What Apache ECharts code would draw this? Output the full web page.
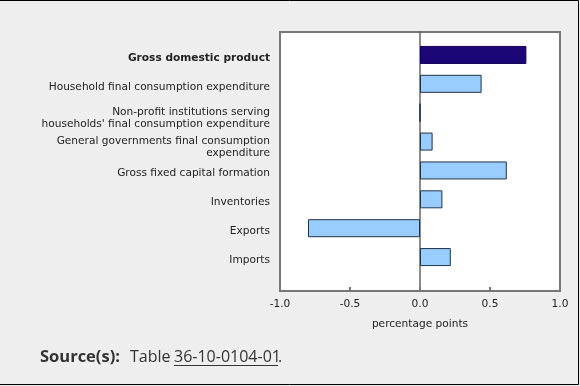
<!DOCTYPE html>
<html><head><meta charset="utf-8">
<script src="https://cdn.jsdelivr.net/npm/echarts@6/dist/echarts.min.js"></script>
<style>html,body{margin:0;padding:0;background:#eeeeee}#c{width:580px;height:386px}</style>
</head><body><div id="c"></div>
<script>
var categories = [
  "Gross domestic product",
  "Household final consumption expenditure",
  "Non-profit institutions serving\nhouseholds' final consumption expenditure",
  "General governments final consumption\nexpenditure",
  "Gross fixed capital formation",
  "Inventories",
  "Exports",
  "Imports"
];
var values = [0.76, 0.44, 0.0, 0.09, 0.62, 0.16, -0.80, 0.22];
var xTicks = [-1.0, -0.5, 0.0, 0.5, 1.0];
var xTitle = "percentage points";

var F = "DejaVu Sans";
var chart = echarts.init(document.getElementById('c'), null, {renderer:'canvas'});
var barData = values.map(function(v, i){
  return {value: v, itemStyle: i === 0 ? {color:'#1d0777', borderColor:'#140055'} : {color:'#99ccff', borderColor:'#1f3347'}};
});
chart.setOption({
  backgroundColor: '#eeeeee',
  animation: false,
  grid: [
    {left:280, right:20, top:32, bottom:95, show:true, backgroundColor:'#ffffff', borderColor:'#777777', borderWidth:2},
    {left:280, right:20, top:40.5, bottom:114.5}
  ],
  xAxis: [
    {type:'value', gridIndex:0, min:xTicks[0], max:xTicks[xTicks.length-1], interval:0.5,
     splitLine:{show:false},
     axisLine:{show:true, lineStyle:{color:'#777777', width:2}},
     axisTick:{show:true, inside:true, length:4, lineStyle:{color:'#777777', width:2}},
     axisLabel:{color:'#222', fontFamily:F, fontSize:10.6, margin:8, formatter:function(v){return v.toFixed(1);}},
     name:xTitle, nameLocation:'middle', nameGap:28, nameTextStyle:{color:'#222', fontFamily:F, fontSize:10.6}},
    {type:'value', gridIndex:1, min:xTicks[0], max:xTicks[xTicks.length-1], show:false}
  ],
  yAxis: [
    {type:'value', gridIndex:0, min:0, max:1, splitLine:{show:false}, axisTick:{show:false}, axisLabel:{show:false},
     axisLine:{show:true, onZero:true, lineStyle:{color:'#666666', width:1.5}}},
    {type:'category', gridIndex:1, inverse:true, data:categories,
     axisLine:{show:false}, axisTick:{show:false}, splitLine:{show:false},
     axisLabel:{color:'#222', fontFamily:F, fontSize:10.6, margin:10, interval:0, padding:[6,0,0,0],
       formatter:function(v, i){
         var lines = v.split('\n');
         var st = (i === 0) ? 'b' : 'n';
         var out = lines.map(function(l){ return '{' + st + '|' + l + '}'; }).join('\n');
         if (lines.length > 1) out = '{s| }\n' + out;
         return out;
       },
       rich:{
         n:{fontFamily:F, fontSize:10.6, color:'#222', lineHeight:12, align:'right'},
         b:{fontFamily:F, fontSize:10.6, color:'#222', fontWeight:'bold', lineHeight:12, align:'right'},
         s:{fontSize:4, lineHeight:6}
       }}}
  ],
  series: [{
    type:'bar', xAxisIndex:1, yAxisIndex:1, data:barData, barWidth:18,
    itemStyle:{borderWidth:1}
  }],
  graphic: [
    {type:'polyline', shape:{points:[[0,0.5],[578.5,0.5],[578.5,384.5],[0,384.5]]}, style:{stroke:'#000', lineWidth:1, fill:null}},
    {type:'text', left:40, top:349, style:{text:'Source(s):', font:'bold 16.5px "Open Sans"', fill:'#333'}},
    {type:'text', left:130, top:349, style:{text:'Table', font:'16px "Open Sans"', fill:'#333'}},
    {type:'text', left:174, top:349, style:{text:'36-10-0104-01', font:'16px "Open Sans"', fill:'#333'}},
    {type:'line', shape:{x1:174, y1:365.5, x2:278, y2:365.5}, style:{stroke:'#333', lineWidth:1}},
    {type:'text', left:278, top:349, style:{text:'.', font:'16px "Open Sans"', fill:'#333'}}
  ]
});
</script></body></html>
